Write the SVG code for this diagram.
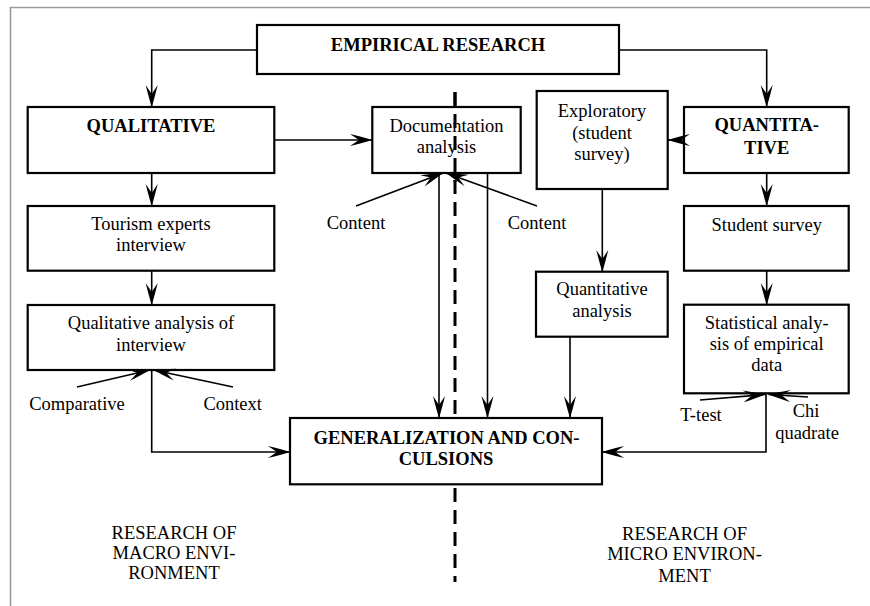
<svg xmlns="http://www.w3.org/2000/svg" width="870" height="606" viewBox="0 0 870 606">
  <style>
    .box { fill: #ffffff; stroke: #000000; stroke-width: 2.2; }
    .con { fill: none; stroke: #000000; stroke-width: 1.6; }
    .arr { marker-end: url(#ah); }
    .t { font-family: "Liberation Serif", "Times New Roman", serif; font-size: 18.5px; fill: #000000; text-anchor: middle; }
    .b { font-weight: bold; }
    .frame { fill: none; stroke: #9a9a9a; stroke-width: 1.6; }
    .split { fill: none; stroke: #000000; stroke-width: 3; stroke-dasharray: 14 8; }
  </style>
  <defs>
    <marker id="ah" markerUnits="userSpaceOnUse" orient="auto" refX="0" refY="0" markerWidth="30" markerHeight="14" viewBox="-24 -7 30 14" overflow="visible">
      <path d="M0,0 Q-9,-2.8 -22,-6 L-13,0 L-22,6 Q-9,2.8 0,0 Z" fill="#000000"/>
    </marker>
  </defs>

  <rect width="870" height="606" fill="#ffffff"/>
  <polyline class="frame" points="10.5,606 10.5,7.5 870,7.5"/>

  <!-- divider between macro and micro environment -->
  <line class="split" x1="455" y1="92" x2="455" y2="582"/>

  <g id="empirical-research">
    <rect class="box" x="257" y="25" width="362" height="49"/>
    <text class="t b" x="438" y="51">EMPIRICAL RESEARCH</text>
  </g>

  <g id="qualitative">
    <rect class="box" x="27.7" y="107" width="246.6" height="66"/>
    <text class="t b" x="151" y="132">QUALITATIVE</text>
  </g>

  <g id="documentation-analysis">
    <rect class="box" x="372.3" y="107" width="148.4" height="66"/>
    <text class="t" x="446.5" y="131.5">Documentation</text>
    <text class="t" x="446.5" y="153">analysis</text>
  </g>

  <g id="exploratory">
    <rect class="box" x="536.7" y="91" width="131" height="98"/>
    <text class="t" x="602" y="117">Exploratory</text>
    <text class="t" x="602" y="138.5">(student</text>
    <text class="t" x="602" y="160">survey)</text>
  </g>

  <g id="quantitative">
    <rect class="box" x="684" y="107" width="164.7" height="66"/>
    <text class="t b" x="766.7" y="131">QUANTITA-</text>
    <text class="t b" x="766.7" y="154">TIVE</text>
  </g>

  <!-- divider passes over the documentation box -->
  <line class="split" x1="455" y1="92" x2="455" y2="182"/>

  <g id="tourism-experts-interview">
    <rect class="box" x="27.7" y="206" width="246.6" height="64.7"/>
    <text class="t" x="151" y="230">Tourism experts</text>
    <text class="t" x="151" y="251">interview</text>
  </g>

  <g id="qualitative-analysis">
    <rect class="box" x="27.7" y="305" width="246.6" height="65"/>
    <text class="t" x="151" y="329">Qualitative analysis of</text>
    <text class="t" x="151" y="351">interview</text>
  </g>

  <g id="student-survey">
    <rect class="box" x="684" y="206" width="164.7" height="64.7"/>
    <text class="t" x="766.7" y="230.5">Student survey</text>
  </g>

  <g id="quantitative-analysis">
    <rect class="box" x="536" y="271.7" width="131.7" height="65"/>
    <text class="t" x="602" y="295">Quantitative</text>
    <text class="t" x="602" y="316.5">analysis</text>
  </g>

  <g id="statistical-analysis">
    <rect class="box" x="684" y="304.7" width="164.7" height="88.6"/>
    <text class="t" x="766.7" y="329">Statistical analy-</text>
    <text class="t" x="766.7" y="350">sis of empirical</text>
    <text class="t" x="766.7" y="371">data</text>
  </g>

  <g id="generalization">
    <rect class="box" x="290" y="418" width="312" height="66.3"/>
    <text class="t b" x="446.5" y="443.5">GENERALIZATION AND CON-</text>
    <text class="t b" x="446" y="465">CULSIONS</text>
  </g>

  <g id="connectors">
    <polyline class="con arr" points="257,50 151.7,50 151.7,107"/>
    <polyline class="con arr" points="619,50 766.7,50 766.7,107"/>
    <line class="con arr" x1="274" y1="140" x2="372" y2="140"/>
    <line class="con arr" x1="684" y1="140" x2="668" y2="140"/>
    <line class="con arr" x1="151.7" y1="173" x2="151.7" y2="206"/>
    <line class="con arr" x1="151.7" y1="271" x2="151.7" y2="305"/>
    <line class="con arr" x1="766.7" y1="173" x2="766.7" y2="206"/>
    <line class="con arr" x1="766.7" y1="271" x2="766.7" y2="305"/>
    <line class="con arr" x1="602.3" y1="189" x2="602.3" y2="272"/>
    <line class="con arr" x1="570" y1="337" x2="570" y2="418"/>
    <line class="con arr" x1="439" y1="173" x2="439" y2="418"/>
    <line class="con arr" x1="487.5" y1="173" x2="487.5" y2="418"/>
    <line class="con arr" x1="356" y1="206" x2="443" y2="173"/>
    <line class="con arr" x1="537" y1="206" x2="446" y2="173"/>
    <line class="con arr" x1="77" y1="387" x2="150" y2="370"/>
    <line class="con arr" x1="233" y1="387" x2="153.5" y2="370"/>
    <line class="con arr" x1="700" y1="400" x2="765" y2="394.5"/>
    <line class="con arr" x1="808" y1="397" x2="768.5" y2="394.5"/>
    <polyline class="con arr" points="151.7,370 151.7,452 290,452"/>
    <polyline class="con arr" points="766,394 766,452 602,452"/>
  </g>

  <g id="labels">
    <text class="t" x="356" y="229">Content</text>
    <text class="t" x="537" y="229">Content</text>
    <text class="t" x="77" y="410">Comparative</text>
    <text class="t" x="232.7" y="410">Context</text>
    <text class="t" x="701" y="420.5">T-test</text>
    <text class="t" x="806" y="416.5">Chi</text>
    <text class="t" x="807" y="439">quadrate</text>
    <text class="t" x="174" y="538.5">RESEARCH OF</text>
    <text class="t" x="174" y="558.5">MACRO ENVI-</text>
    <text class="t" x="174" y="579">RONMENT</text>
    <text class="t" x="684.5" y="540">RESEARCH OF</text>
    <text class="t" x="684.5" y="560">MICRO ENVIRON-</text>
    <text class="t" x="684.5" y="582">MENT</text>
  </g>
</svg>
